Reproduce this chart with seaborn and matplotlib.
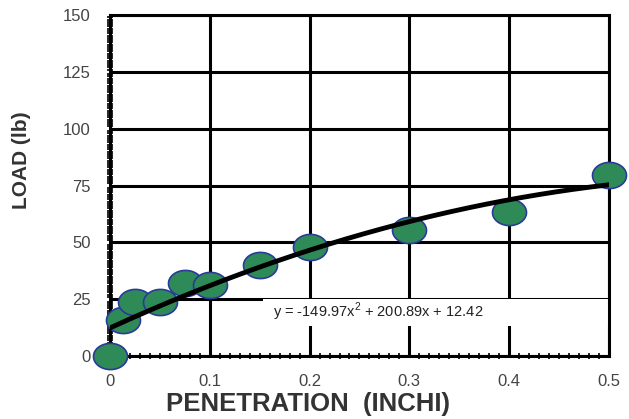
import matplotlib
matplotlib.use("Agg")
import matplotlib.pyplot as plt
import numpy as np
import pandas as pd
import seaborn as sns
from matplotlib.patches import Rectangle
from matplotlib.path import Path as MPath
from matplotlib.ticker import FuncFormatter, MultipleLocator

penetration = [0.0, 0.0125, 0.025, 0.05, 0.075, 0.1, 0.15, 0.2, 0.3, 0.4, 0.5]
load = [0.0, 16.0, 24.0, 24.0, 32.0, 31.5, 40.0, 48.0, 55.5, 63.5, 79.5]
fit_coef = [-149.97, 200.89, 12.42]
equation = "y = -149.97x$^2$ + 200.89x + 12.42"


def main():
    sns.set_style("white")
    plt.rcParams["font.family"] = ["Liberation Sans", "DejaVu Sans"]
    plt.rcParams["mathtext.fontset"] = "custom"
    plt.rcParams["mathtext.rm"] = "Liberation Sans"

    df = pd.DataFrame({"Penetration": penetration, "Load": load})

    fig = plt.figure(figsize=(6.29, 4.19), dpi=100)
    ax = fig.add_axes([0.175, 0.150, 0.793, 0.814])

    xs = np.linspace(0, 0.5, 200)
    ys = np.polyval(fit_coef, xs)
    fit = pd.DataFrame({"Penetration": xs, "Load": ys})

    # oval marker, a bit wider than tall
    t = np.linspace(0, 2 * np.pi, 60)
    oval = MPath(np.column_stack([1.3 * np.cos(t), np.sin(t)]), closed=True)

    sns.scatterplot(
        data=df, x="Penetration", y="Load", ax=ax,
        marker=oval, s=600, color="#2e8b57",
        edgecolor="#2a3a9a", linewidth=1.2, zorder=5, clip_on=False,
    )
    sns.lineplot(
        data=fit, x="Penetration", y="Load", ax=ax,
        color="black", linewidth=3.5, zorder=6,
    )

    ax.set_xlim(0, 0.5)
    ax.set_ylim(0, 150)
    ax.xaxis.set_major_locator(MultipleLocator(0.1))
    ax.xaxis.set_minor_locator(MultipleLocator(0.01))
    ax.yaxis.set_major_locator(MultipleLocator(25))
    ax.yaxis.set_minor_locator(MultipleLocator(1))
    ax.xaxis.set_major_formatter(
        FuncFormatter(lambda v, p: "0" if abs(v) < 1e-9 else f"{v:.1f}"))

    ax.grid(True, which="major", color="black", linewidth=2.2, zorder=1)
    ax.set_axisbelow(True)
    for side in ax.spines.values():
        side.set_color("black")
        side.set_linewidth(2.2)

    ax.tick_params(which="major", direction="out", length=4, width=1.5,
                   labelsize=12, labelcolor="#444444", color="black")
    ax.tick_params(axis="y", which="major", pad=10)
    ax.tick_params(axis="x", which="major", pad=9)
    ax.tick_params(which="minor", direction="inout", length=4, width=1.2,
                   color="black")
    ax.tick_params(axis="x", which="minor", bottom=True)
    ax.tick_params(axis="y", which="minor", left=True)

    # white box behind the trendline equation
    ax.add_patch(Rectangle((0.1535, 13.2), 0.3465, 11.8, facecolor="white",
                           edgecolor="none", zorder=2))
    ax.text(0.327, 0.129, equation, transform=ax.transAxes,
            fontsize=10.5, color="#222222", va="center", ha="left",
            zorder=3)

    ax.set_xlabel("PENETRATION  (INCHI)", fontsize=18.5, fontweight="bold",
                  color="#333333")
    ax.xaxis.set_label_coords(0.397, -0.105)
    ax.set_ylabel("LOAD (lb)", fontsize=15, fontweight="bold",
                  color="#333333")
    ax.yaxis.set_label_coords(-0.158, 0.575)

    fig.savefig("out.png", dpi=100)


if __name__ == "__main__":
    main()
